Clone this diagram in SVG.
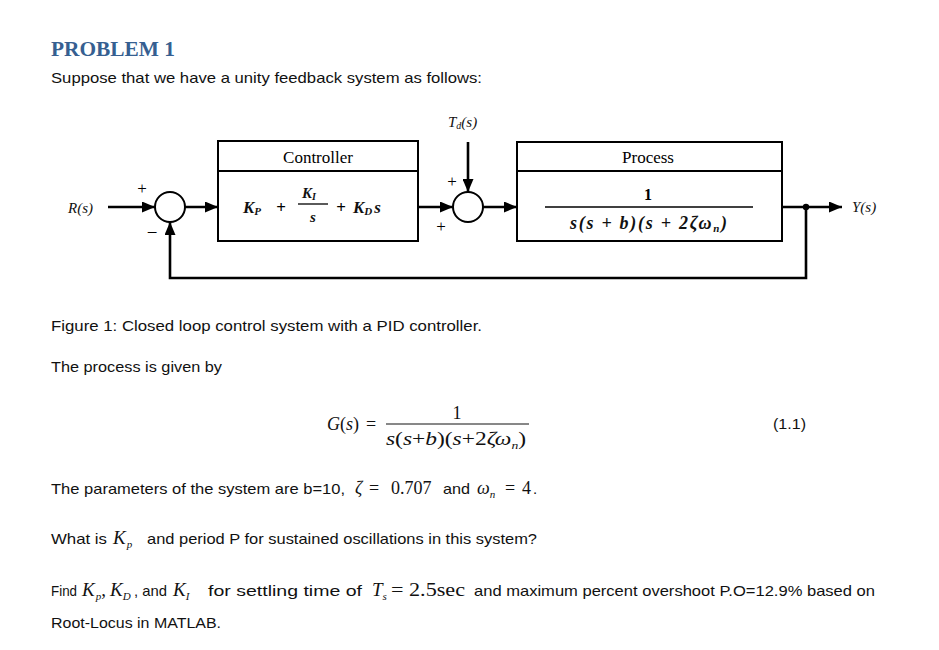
<svg xmlns="http://www.w3.org/2000/svg" width="939" height="650" viewBox="0 0 939 650">
<defs>
<marker id="arr" markerUnits="userSpaceOnUse" markerWidth="13" markerHeight="11" refX="13" refY="5.5" orient="auto">
<path d="M0,0 L13,5.5 L0,11 z" fill="#000"/>
</marker>
<style>
.body{font-family:"Liberation Sans",Arial,sans-serif;font-size:15px;fill:#111}
.m{font-family:"Liberation Serif","Times New Roman",serif;font-style:italic;fill:#111}
.mr{font-family:"Liberation Serif","Times New Roman",serif;fill:#111}
.d{font-family:"Liberation Serif","Times New Roman",serif;fill:#000}
.line{stroke:#000;stroke-width:2.6;fill:none}
.box{stroke:#000;stroke-width:2;fill:#fff}
.sum{stroke:#000;stroke-width:2;fill:#fff}
</style>
</defs>
<rect width="939" height="650" fill="#fff"/>

<text x="51" y="56" font-family="'Liberation Serif',Cambria,serif" font-weight="bold" font-size="20" fill="#365F91" textLength="124" lengthAdjust="spacingAndGlyphs">PROBLEM 1</text>
<text class="body" x="51" y="83" textLength="431" lengthAdjust="spacingAndGlyphs">Suppose that we have a unity feedback system as follows:</text>

<g id="connectors">
<path class="line" d="M108,207 H155" marker-end="url(#arr)"/>
<path class="line" d="M185,207 H218" marker-end="url(#arr)"/>
<path class="line" d="M418,207 H453" marker-end="url(#arr)"/>
<path class="line" d="M468,142 V192" marker-end="url(#arr)"/>
<path class="line" d="M483,207 H517" marker-end="url(#arr)"/>
<path class="line" d="M782,207 H842" marker-end="url(#arr)"/>
<path class="line" d="M806,207 V278 H170 V222" marker-end="url(#arr)"/>
<circle cx="806" cy="207" r="3.2" fill="#000"/>
</g>

<g id="input">
<text class="m" x="68" y="213" font-size="15">R(s)</text>
</g>

<g id="sum1">
<circle class="sum" cx="170" cy="207" r="15"/>
<text class="d" x="142" y="194" font-size="17" text-anchor="middle">+</text>
<text class="d" x="152" y="239" font-size="19" text-anchor="middle">−</text>
</g>

<g id="controller">
<rect class="box" x="218" y="141" width="200" height="100"/>
<line x1="218" y1="171" x2="418" y2="171" stroke="#000" stroke-width="2"/>
<text class="d" x="318" y="163" font-size="17" text-anchor="middle">Controller</text>
<text class="m" font-weight="bold" font-size="17" x="243" y="213">K<tspan font-size="11" dy="2">P</tspan></text>
<text class="d" font-weight="bold" font-size="17" x="281" y="213" text-anchor="middle">+</text>
<text class="m" font-weight="bold" font-size="15" x="302" y="198">K<tspan font-size="10" dy="2">I</tspan></text>
<line x1="298" y1="204" x2="328" y2="204" stroke="#000" stroke-width="1.3"/>
<text class="m" font-weight="bold" font-size="15" x="313" y="222" text-anchor="middle">s</text>
<text class="d" font-weight="bold" font-size="17" x="341" y="213" text-anchor="middle">+</text>
<text class="m" font-weight="bold" font-size="17" x="353" y="213">K<tspan font-size="11" dy="2">D</tspan><tspan dy="-2" dx="2">s</tspan></text>
</g>

<g id="disturbance">
<text class="m" x="448" y="127" font-size="15">T<tspan font-size="10" dy="2">d</tspan><tspan dy="-2">(s)</tspan></text>
</g>

<g id="sum2">
<circle class="sum" cx="468" cy="207" r="15"/>
<text class="d" x="452" y="187" font-size="17" text-anchor="middle">+</text>
<text class="d" x="441" y="232" font-size="17" text-anchor="middle">+</text>
</g>

<g id="process">
<rect class="box" x="517" y="142" width="265" height="99"/>
<line x1="517" y1="171" x2="782" y2="171" stroke="#000" stroke-width="2"/>
<text class="d" x="648" y="163" font-size="17" text-anchor="middle">Process</text>
<text class="d" font-weight="bold" font-size="16" x="648" y="200" text-anchor="middle">1</text>
<line x1="545" y1="207" x2="753" y2="207" stroke="#000" stroke-width="1.3"/>
<text class="m" font-weight="bold" font-size="18" x="570" y="229" textLength="157" lengthAdjust="spacing">s(s + b)(s + 2ζω<tspan font-size="11" dy="3">n</tspan><tspan dy="-3">)</tspan></text>
</g>

<g id="output">
<text class="m" x="852" y="212" font-size="15">Y(s)</text>
</g>

<text class="body" x="51" y="331" textLength="431" lengthAdjust="spacingAndGlyphs">Figure 1: Closed loop control system with a PID controller.</text>
<text class="body" x="51" y="372" textLength="171" lengthAdjust="spacingAndGlyphs">The process is given by</text>

<g id="equation">
<text class="m" font-size="18" x="327" y="430">G<tspan font-style="normal">(</tspan>s<tspan font-style="normal">)</tspan></text>
<text class="mr" font-size="18" x="366" y="430">=</text>
<text class="mr" font-size="18" x="457" y="419" text-anchor="middle">1</text>
<line x1="386" y1="424" x2="529" y2="424" stroke="#111" stroke-width="1"/>
<text class="m" font-size="19" x="386" y="445" textLength="140" lengthAdjust="spacingAndGlyphs">s<tspan font-style="normal">(</tspan>s<tspan font-style="normal">+</tspan>b<tspan font-style="normal">)(</tspan>s<tspan font-style="normal">+2</tspan>ζω<tspan font-size="11" dy="4">n</tspan><tspan font-style="normal" dy="-4">)</tspan></text>
<text class="body" x="773" y="429" textLength="33" lengthAdjust="spacingAndGlyphs">(1.1)</text>
</g>

<text class="body" x="51" y="494" textLength="294" lengthAdjust="spacingAndGlyphs">The parameters of the system are b=10,</text>
<text class="m" font-size="18" x="355" y="494">ζ</text>
<text class="mr" font-size="18" x="369" y="494">=</text>
<text class="mr" font-size="18" x="391" y="494">0.707</text>
<text class="body" x="443" y="494" textLength="27" lengthAdjust="spacingAndGlyphs">and</text>
<text class="m" font-size="18" x="477" y="494">ω<tspan font-size="11" dy="4">n</tspan></text>
<text class="mr" font-size="18" x="505" y="494">=</text>
<text class="mr" font-size="18" x="522" y="494">4</text>
<text class="body" x="533" y="494">.</text>

<text class="body" x="51" y="544" textLength="56" lengthAdjust="spacingAndGlyphs">What is</text>
<text class="m" font-size="19" x="113" y="544">K<tspan font-size="11" dy="4" dx="1">p</tspan></text>
<text class="body" x="147" y="544" textLength="390" lengthAdjust="spacingAndGlyphs">and period P for sustained oscillations in this system?</text>

<text class="body" x="51" y="596" textLength="26" lengthAdjust="spacingAndGlyphs">Find</text>
<text class="m" font-size="19" x="82" y="596">K<tspan font-size="11" dy="4" dx="1">p</tspan><tspan font-style="normal" dy="-4">,</tspan></text>
<text class="m" font-size="19" x="110" y="596">K<tspan font-size="11" dy="4" dx="0">D</tspan></text>
<text class="body" x="134" y="596" textLength="33" lengthAdjust="spacingAndGlyphs">, and</text>
<text class="m" font-size="19" x="173" y="596">K<tspan font-size="11" dy="4" dx="0">I</tspan></text>
<text class="body" x="208" y="596" textLength="154" lengthAdjust="spacingAndGlyphs">for settling time of</text>
<text class="m" font-size="19" x="372" y="596">T<tspan font-size="11" dy="4" dx="0">s</tspan></text>
<text class="mr" font-size="19" x="391" y="596" textLength="74" lengthAdjust="spacingAndGlyphs">= 2.5sec</text>
<text class="body" x="474" y="596" textLength="401" lengthAdjust="spacingAndGlyphs">and maximum percent overshoot P.O=12.9% based on</text>
<text class="body" x="51" y="628" textLength="170" lengthAdjust="spacingAndGlyphs">Root-Locus in MATLAB.</text>
</svg>
